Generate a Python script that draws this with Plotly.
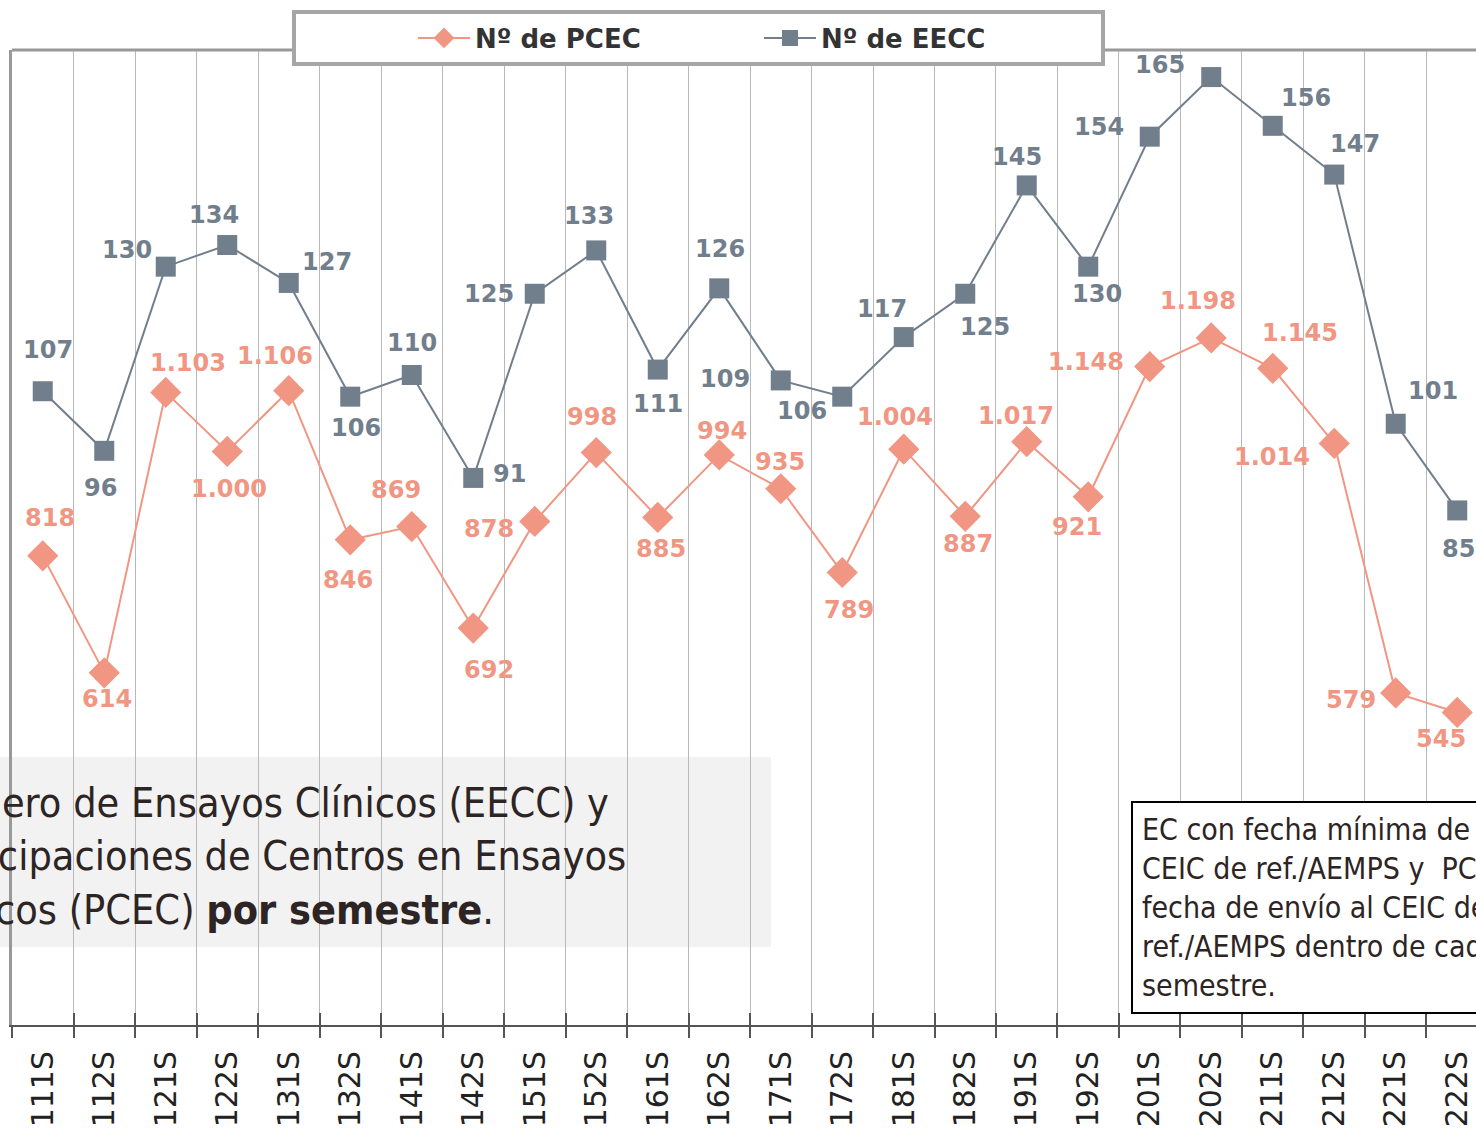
import plotly.graph_objects as go

# %% data
semesters = [f"{y}{s}S" for y in range(2011, 2023) for s in (1, 2)]
pcec = [818, 614, 1103, 1000, 1106, 846, 869, 692, 878, 998, 885, 994,
        935, 789, 1004, 887, 1017, 921, 1148, 1198, 1145, 1014, 579, 545]
eecc = [107, 96, 130, 134, 127, 106, 110, 91, 125, 133, 111, 126,
        109, 106, 117, 125, 145, 130, 154, 165, 156, 147, 101, 85]

# label offsets (px) relative to each point, as Excel placed them
pcec_off = [(7, -38), (3, 26), (22, -29), (2, 38), (-14, -35), (-2, 40), (-16, -37), (16, 42),
            (-46, 8), (-4, -36), (3, 32), (3, -24), (-1, -27), (7, 38), (-9, -32), (3, 28),
            (-11, -26), (-11, 30), (-64, -5), (-13, -37), (27, -35), (-62, 14), (-45, 7), (-16, 27)]
eecc_off = [(5, -41), (-4, 37), (-39, -17), (-13, -30), (38, -21), (6, 31), (0, -32), (36, -4),
            (-46, 0), (-7, -34), (0, 34), (1, -39), (-56, -1), (-40, 14), (-22, -28), (20, 33),
            (-10, -28), (9, 27), (-51, -10), (-51, -12), (33, -28), (21, -31), (37, -33), (1, 39)]

SALMON = "#f09682"
SLATE = "#717e8c"
LABEL_FONT = "DejaVu Sans, Verdana, sans-serif"
NARROW = "DejaVu Sans Condensed, Liberation Sans Narrow, Roboto Condensed, Roboto, sans-serif"

# plot area in page pixels (body margin is removed below)
PL, PT, PW, PH = 12, 50, 1464, 975


def px(vx):
    return (vx - PL) / PW


def py(vy):
    return (PT + PH - vy) / PH


def es_num(v):
    return f"{v:,}".replace(",", ".")


fig = go.Figure()
fig.add_trace(go.Scatter(
    x=semesters, y=pcec, name="Nº de PCEC", mode="lines+markers",
    line=dict(color=SALMON, width=2),
    marker=dict(symbol="diamond", size=24, color=SALMON),
    yaxis="y",
))
fig.add_trace(go.Scatter(
    x=semesters, y=eecc, name="Nº de EECC", mode="lines+markers",
    line=dict(color=SLATE, width=2),
    marker=dict(symbol="square", size=20, color=SLATE),
    yaxis="y2",
))
# invisible carrier so the inner half of the crossing ticks gets drawn
fig.add_trace(go.Scatter(
    x=semesters, y=pcec, mode="markers", marker=dict(opacity=0), xaxis="x2", yaxis="y",
    showlegend=False, hoverinfo="skip",
))

annotations = []
for cat, v, (dx, dy) in zip(semesters, pcec, pcec_off):
    annotations.append(dict(x=cat, y=v, yref="y", text=f"<b>{es_num(v)}</b>", showarrow=False,
                            xshift=dx, yshift=-dy,
                            font=dict(family=LABEL_FONT, size=24, color=SALMON)))
for cat, v, (dx, dy) in zip(semesters, eecc, eecc_off):
    annotations.append(dict(x=cat, y=v, yref="y2", text=f"<b>{v}</b>", showarrow=False,
                            xshift=dx, yshift=-dy,
                            font=dict(family=LABEL_FONT, size=24, color=SLATE)))

# title box (left, partly off-page) and note box (right, partly off-page)
annotations.append(dict(
    xref="paper", yref="paper", x=px(-87), y=py(777), xanchor="left", yanchor="top", align="left",
    text="Número de Ensayos Clínicos (EECC) y<br>Participaciones de Centros en Ensayos<br>"
         "Clínicos (PCEC) <b>por semestre</b>.",
    showarrow=False, font=dict(family=NARROW, size=41, color="#2d2424"),
))
annotations.append(dict(
    xref="paper", yref="paper", x=px(1131), y=py(801), xanchor="left", yanchor="top", align="left",
    text="EC con fecha mínima de envío al<br>CEIC de ref./AEMPS y  PCEC con<br>"
         "fecha de envío al CEIC de<br>ref./AEMPS dentro de cada<br>semestre.",
    showarrow=False, font=dict(family=NARROW, size=30, color="#2d2424"),
    bgcolor="white", bordercolor="black", borderwidth=2, borderpad=9,
))

shapes = [
    # grey title panel
    dict(type="rect", xref="paper", yref="paper", x0=px(-60), x1=px(771), y0=py(947), y1=py(757),
         fillcolor="#f2f2f2", line=dict(width=0), layer="below"),
    # top border of the plot area
    dict(type="line", xref="paper", yref="paper", x0=0, x1=1, y0=1, y1=1,
         line=dict(color="#999999", width=3)),
    # legend frame
    dict(type="rect", xref="paper", yref="paper", x0=px(294), x1=px(1103), y0=py(64), y1=py(12),
         fillcolor="white", line=dict(color="#a6a6a6", width=4), layer="above"),
]

fig.update_layout(
    width=1476, height=1128,
    margin=dict(l=12, r=0, t=50, b=103),
    plot_bgcolor="white", paper_bgcolor="white",
    showlegend=True,
    legend=dict(orientation="h", x=px(413), y=py(38), xanchor="left", yanchor="middle",
                bgcolor="rgba(0,0,0,0)", itemwidth=52, entrywidth=279,
                font=dict(family="DejaVu Sans, Verdana, sans-serif", size=26, color="#333333",
                          weight="bold"),
                itemclick=False),
    annotations=annotations,
    shapes=shapes,
    xaxis=dict(
        type="category", range=[-0.5, 23.305], tickson="boundaries",
        showgrid=True, gridcolor="#b8b8b8", gridwidth=1,
        showline=True, linecolor="#555555", linewidth=2,
        ticks="outside", ticklen=11, tickcolor="#555555", tickwidth=2,
        tickangle=-90, automargin=False, ticklabelstandoff=12,
        tickfont=dict(family="DejaVu Sans, Verdana, sans-serif", size=30, color="#222222"),
    ),
    xaxis2=dict(
        type="category", matches="x", overlaying="x", anchor="y", side="bottom",
        tickson="boundaries", ticks="inside", ticklen=12, tickcolor="#555555", tickwidth=2,
        showticklabels=False, showgrid=False, showline=False, automargin=False,
    ),
    yaxis=dict(range=[0, 1700], showgrid=False, zeroline=False, showticklabels=False,
               showline=True, linecolor="#999999", linewidth=3, ticks=""),
    yaxis2=dict(range=[-10, 170], overlaying="y", showgrid=False, zeroline=False,
                showticklabels=False, showline=False, ticks=""),
)

fig.write_html("out.html", config={"displayModeBar": False},
               post_script="document.body.style.margin='0';document.body.style.overflow='hidden';")
